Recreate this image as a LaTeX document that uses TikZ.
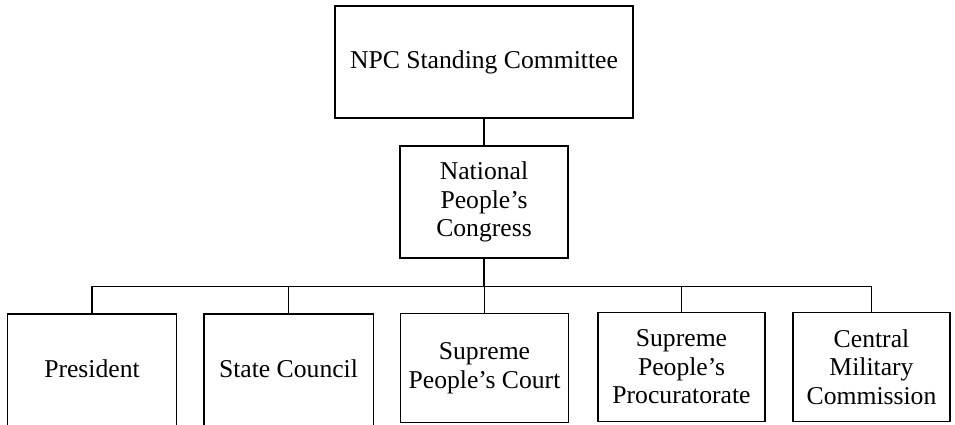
\documentclass[tikz,border=0pt]{standalone}
\usepackage{fontspec}
\setmainfont{Liberation Serif}
\usepackage{tikz}
\usetikzlibrary{
    positioning,
    calc
}
\tikzset{
  organ/.style  = {draw, line width=0.6pt, minimum width=3.36cm,
                   minimum height=2.18cm, align=center, inner sep=2pt,
                   font=\fontsize{14.6}{16.2}\selectfont},
  openbox/.style = {organ, draw=none},
  topbox/.style = {organ, minimum width=5.96cm, minimum height=2.24cm},
  link/.style   = {line width=0.6pt, black}
}

\begin{document}
\begin{tikzpicture}
  \useasboundingbox (0,0) rectangle (19.1,8.5);

  % top of the hierarchy
  \node[topbox] (npcsc) at (9.68, 7.26) {NPC Standing Committee};
  \node[organ, minimum height=2.24cm] (npc) at (9.68, 4.46)
        {National\\People's\\Congress};

  % organs below the congress
  \node[openbox, anchor=north] (pres)  at (1.84, 2.22) {President};
  \node[openbox, anchor=north] (state) at (5.77, 2.22) {State Council};
  \node[organ, anchor=north] (court) at (9.69, 2.24) {Supreme\\People's Court};
  \node[organ, anchor=north, minimum width=3.34cm] (proc) at (13.63, 2.26)
        {Supreme\\People's\\Procuratorate};
  \node[organ, anchor=north, minimum width=3.14cm] (cmc) at (17.43, 2.26)
        {Central\\Military\\Commission};

  % these two run off the foot of the page
  \foreach \b in {pres, state}
    \draw[link] ([yshift=-0.4cm]\b.south west) -- (\b.north west)
                -- (\b.north east) -- ([yshift=-0.4cm]\b.south east);

  \draw[link] (npcsc) -- (npc);
  \coordinate (bus) at ($(npc.south)+(0,-0.56)$);
  \draw[link] (npc.south) -- (bus);
  \foreach \b in {pres, state, court, proc, cmc}
    \draw[link] (bus) -| (\b.north);
\end{tikzpicture}
\end{document}
